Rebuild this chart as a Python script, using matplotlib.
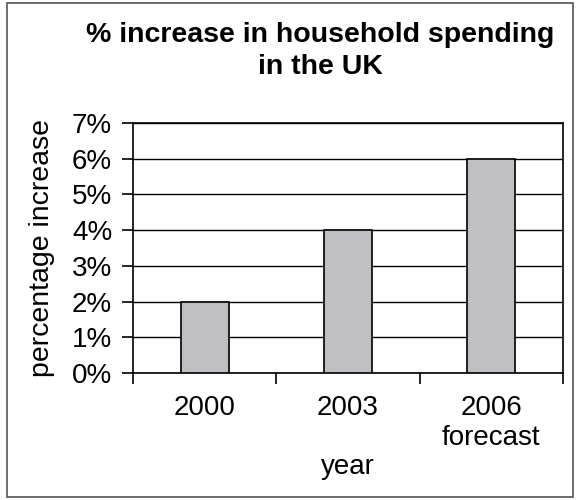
import matplotlib
matplotlib.use("Agg")
import matplotlib.pyplot as plt
from matplotlib.patches import Rectangle
from matplotlib.ticker import MultipleLocator, FixedLocator, PercentFormatter

plt.rcParams['font.family'] = ['Liberation Sans', 'DejaVu Sans']

# data
years = ["2000", "2003", "2006\nforecast"]
increase = [2, 4, 6]

title = "% increase in household spending\nin the UK"

fig = plt.figure(figsize=(5.77, 5.0), dpi=100)
# plot area: left 133, right 563, top 123, bottom 373 (pixels)
ax = fig.add_axes([133/577, 1 - 373/500, (563-133)/577, (373-123)/500])

x = list(range(len(years)))
ax.bar(x, increase, width=1/3, color="#c0c0c4", edgecolor="black",
       linewidth=1.2, zorder=3)

ax.set_xlim(-0.5, len(years) - 0.5)
ax.set_ylim(0, 7)
ax.yaxis.set_major_locator(MultipleLocator(1))
ax.yaxis.set_major_formatter(PercentFormatter(decimals=0))
ax.grid(axis="y", color="black", linewidth=1.0, zorder=1)

ax.set_xticks(x)
ax.set_xticklabels(years)
ax.xaxis.set_minor_locator(FixedLocator([-0.5, 0.5, 1.5, 2.5]))
ax.tick_params(axis="x", which="major", length=0, pad=16, labelsize=20)
ax.tick_params(axis="x", which="minor", length=8, width=1.2, direction="out")
ax.tick_params(axis="y", length=8, width=1.2, direction="out", pad=7,
               labelsize=20)

for s in ax.spines.values():
    s.set_color("black")
    s.set_linewidth(1.2)

ax.set_ylabel("percentage increase", fontsize=20.5, labelpad=12)
ax.set_xlabel("year", fontsize=20, labelpad=2)

fig.text(320/577, 1 - 51/500, title, ha="center", va="center",
         fontsize=20.5, fontweight="bold", linespacing=1.3)

# outer frame
fig.patches.append(Rectangle((7/577, 3/500), 566/577, 494/500,
                             transform=fig.transFigure, fill=False,
                             edgecolor="#555555", linewidth=1.2))

fig.savefig("out.png", dpi=100)
